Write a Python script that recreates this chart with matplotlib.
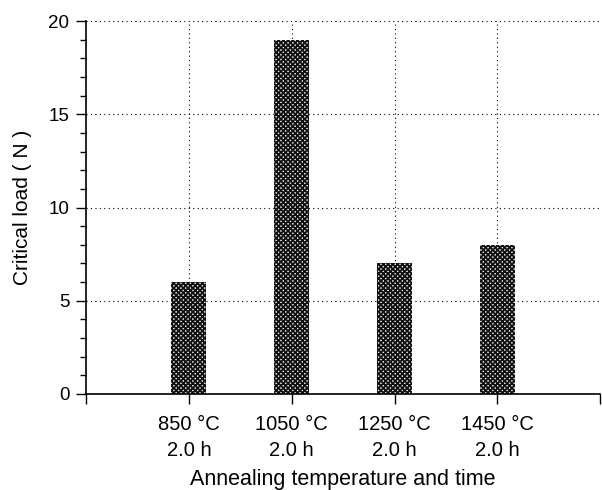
import numpy as np
import matplotlib.pyplot as plt

plt.rcParams["font.family"] = ["Liberation Sans", "DejaVu Sans"]
plt.rcParams["hatch.linewidth"] = 1.3
plt.rcParams["hatch.color"] = "#111111"

# data
conditions = ["850 °C\n2.0 h", "1050 °C\n2.0 h", "1250 °C\n2.0 h", "1450 °C\n2.0 h"]
critical_load = [6, 19, 7, 8]

index = np.arange(1, len(conditions) + 1)

fig = plt.figure(figsize=(6.02, 4.9), dpi=100)
ax = fig.add_axes([0.143, 0.196, 0.854, 0.761])

ax.bar(
    index,
    critical_load,
    0.34,
    color="#e8e8e8",
    edgecolor="#111111",
    hatch="x" * 7,
    linewidth=0,
    zorder=2,
)

ax.set_xlim(0, 5)
ax.set_ylim(0, 20)

# spines
ax.spines["top"].set_visible(False)
ax.spines["right"].set_visible(False)
ax.spines["left"].set_linewidth(1.2)
ax.spines["bottom"].set_linewidth(1.2)

# grid
for y in [5, 10, 15, 20]:
    ax.axhline(y, color="black", linestyle=(0, (1, 3)), linewidth=0.8, zorder=0)
for x in index:
    ax.axvline(x, color="black", linestyle=(0, (1, 3)), linewidth=0.8, zorder=0)

# ticks
ax.set_yticks([0, 5, 10, 15, 20])
ax.set_yticks(np.arange(0, 21, 1), minor=True)
ax.set_xticks([0, 1, 2, 3, 4, 5])
ax.set_xticklabels([""] + conditions + [""])
ax.tick_params(axis="y", which="major", length=7, width=1, direction="out", labelsize=13.5, pad=5)
ax.tick_params(axis="y", which="minor", length=4, width=1, direction="out")
ax.tick_params(axis="x", length=7, width=1, direction="out", labelsize=14.5, pad=8)
for lbl in ax.get_xticklabels():
    lbl.set_linespacing(1.5)

ax.set_ylabel("Critical load ( N )", fontsize=15, labelpad=12)
ax.set_xlabel("Annealing temperature and time", fontsize=15.5)
ax.xaxis.label.set_va("baseline")
ax.xaxis.set_label_coords(0.5, -0.244)

plt.savefig("out.png", dpi=100)
